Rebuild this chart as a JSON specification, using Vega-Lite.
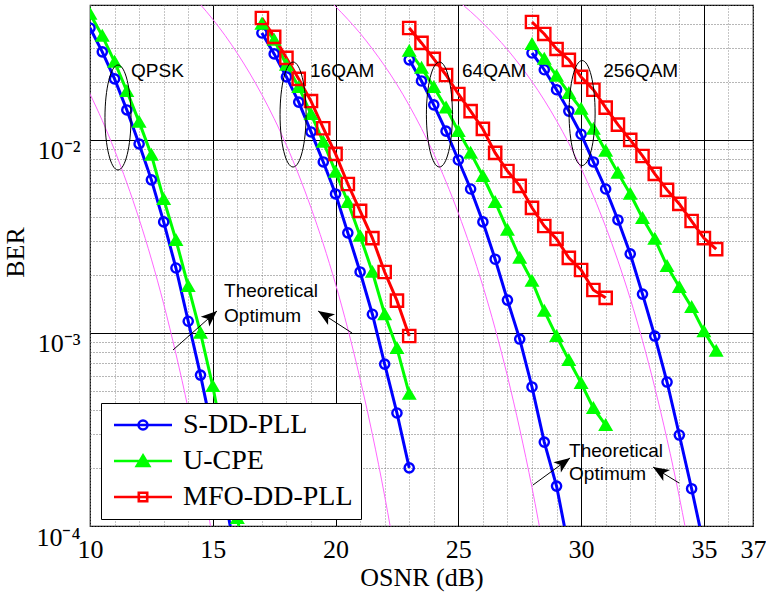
{
  "$schema": "https://vega.github.io/schema/vega-lite/v6.json",
  "width": 663,
  "height": 521,
  "autosize": {"type": "none"},
  "padding": {"left": 90, "top": 5, "right": 13, "bottom": 66},
  "background": "white",
  "config": {
    "view": {"stroke": "black", "strokeWidth": 1.2},
    "font": "Liberation Serif",
    "axis": {"labelOverlap": false},
    "legend": {
      "orient": "none",
      "legendX": 11,
      "legendY": 398,
      "padding": 8,
      "fillColor": "white",
      "strokeColor": "black",
      "symbolSize": 400,
      "symbolStrokeWidth": 2.6,
      "symbolOffset": 20,
      "labelFont": "Liberation Serif",
      "labelFontSize": 28,
      "labelColor": "black",
      "labelOffset": 26,
      "labelLimit": 400,
      "rowPadding": 8
    }
  },
  "datasets": {
    "meas": [
      {"series": "S-DD-PLL", "mod": "QPSK", "osnr": 10, "ber": 0.038},
      {"series": "S-DD-PLL", "mod": "QPSK", "osnr": 10.5, "ber": 0.0286},
      {"series": "S-DD-PLL", "mod": "QPSK", "osnr": 11, "ber": 0.0207},
      {"series": "S-DD-PLL", "mod": "QPSK", "osnr": 11.5, "ber": 0.0143},
      {"series": "S-DD-PLL", "mod": "QPSK", "osnr": 12, "ber": 0.00953},
      {"series": "S-DD-PLL", "mod": "QPSK", "osnr": 12.5, "ber": 0.00621},
      {"series": "S-DD-PLL", "mod": "QPSK", "osnr": 13, "ber": 0.00376},
      {"series": "S-DD-PLL", "mod": "QPSK", "osnr": 13.5, "ber": 0.00217},
      {"series": "S-DD-PLL", "mod": "QPSK", "osnr": 14, "ber": 0.00115},
      {"series": "S-DD-PLL", "mod": "QPSK", "osnr": 14.5, "ber": 0.000605},
      {"series": "S-DD-PLL", "mod": "QPSK", "osnr": 15, "ber": 0.0003},
      {"series": "S-DD-PLL", "mod": "QPSK", "osnr": 15.5, "ber": 0.00014},
      {"series": "S-DD-PLL", "mod": "QPSK", "osnr": 16, "ber": 0.000063},
      {"series": "U-CPE", "mod": "QPSK", "osnr": 10, "ber": 0.045},
      {"series": "U-CPE", "mod": "QPSK", "osnr": 10.5, "ber": 0.0346},
      {"series": "U-CPE", "mod": "QPSK", "osnr": 11, "ber": 0.0254},
      {"series": "U-CPE", "mod": "QPSK", "osnr": 11.5, "ber": 0.0179},
      {"series": "U-CPE", "mod": "QPSK", "osnr": 12, "ber": 0.0124},
      {"series": "U-CPE", "mod": "QPSK", "osnr": 12.5, "ber": 0.00836},
      {"series": "U-CPE", "mod": "QPSK", "osnr": 13, "ber": 0.00494},
      {"series": "U-CPE", "mod": "QPSK", "osnr": 13.5, "ber": 0.00303},
      {"series": "U-CPE", "mod": "QPSK", "osnr": 14, "ber": 0.00175},
      {"series": "U-CPE", "mod": "QPSK", "osnr": 14.5, "ber": 0.001},
      {"series": "U-CPE", "mod": "QPSK", "osnr": 15, "ber": 0.00053},
      {"series": "U-CPE", "mod": "QPSK", "osnr": 15.5, "ber": 0.00025},
      {"series": "U-CPE", "mod": "QPSK", "osnr": 16, "ber": 0.00011},
      {"series": "U-CPE", "mod": "QPSK", "osnr": 16.5, "ber": 0.00005},
      {"series": "S-DD-PLL", "mod": "16QAM", "osnr": 17, "ber": 0.0358},
      {"series": "S-DD-PLL", "mod": "16QAM", "osnr": 17.5, "ber": 0.0279},
      {"series": "S-DD-PLL", "mod": "16QAM", "osnr": 18, "ber": 0.0212},
      {"series": "S-DD-PLL", "mod": "16QAM", "osnr": 18.5, "ber": 0.0157},
      {"series": "S-DD-PLL", "mod": "16QAM", "osnr": 19, "ber": 0.011},
      {"series": "S-DD-PLL", "mod": "16QAM", "osnr": 19.5, "ber": 0.00769},
      {"series": "S-DD-PLL", "mod": "16QAM", "osnr": 20, "ber": 0.00525},
      {"series": "S-DD-PLL", "mod": "16QAM", "osnr": 20.5, "ber": 0.0033},
      {"series": "S-DD-PLL", "mod": "16QAM", "osnr": 21, "ber": 0.00207},
      {"series": "S-DD-PLL", "mod": "16QAM", "osnr": 21.5, "ber": 0.00125},
      {"series": "S-DD-PLL", "mod": "16QAM", "osnr": 22, "ber": 0.00069},
      {"series": "S-DD-PLL", "mod": "16QAM", "osnr": 22.5, "ber": 0.000385},
      {"series": "S-DD-PLL", "mod": "16QAM", "osnr": 23, "ber": 0.0002},
      {"series": "U-CPE", "mod": "16QAM", "osnr": 17, "ber": 0.0399},
      {"series": "U-CPE", "mod": "16QAM", "osnr": 17.5, "ber": 0.033},
      {"series": "U-CPE", "mod": "16QAM", "osnr": 18, "ber": 0.0245},
      {"series": "U-CPE", "mod": "16QAM", "osnr": 18.5, "ber": 0.0188},
      {"series": "U-CPE", "mod": "16QAM", "osnr": 19, "ber": 0.0136},
      {"series": "U-CPE", "mod": "16QAM", "osnr": 19.5, "ber": 0.00977},
      {"series": "U-CPE", "mod": "16QAM", "osnr": 20, "ber": 0.00683},
      {"series": "U-CPE", "mod": "16QAM", "osnr": 20.5, "ber": 0.00477},
      {"series": "U-CPE", "mod": "16QAM", "osnr": 21, "ber": 0.00318},
      {"series": "U-CPE", "mod": "16QAM", "osnr": 21.5, "ber": 0.00207},
      {"series": "U-CPE", "mod": "16QAM", "osnr": 22, "ber": 0.00125},
      {"series": "U-CPE", "mod": "16QAM", "osnr": 22.5, "ber": 0.000835},
      {"series": "U-CPE", "mod": "16QAM", "osnr": 23, "ber": 0.000483},
      {"series": "MFO-DD-PLL", "mod": "16QAM", "osnr": 17, "ber": 0.0428},
      {"series": "MFO-DD-PLL", "mod": "16QAM", "osnr": 17.5, "ber": 0.0342},
      {"series": "MFO-DD-PLL", "mod": "16QAM", "osnr": 18, "ber": 0.0266},
      {"series": "MFO-DD-PLL", "mod": "16QAM", "osnr": 18.5, "ber": 0.0207},
      {"series": "MFO-DD-PLL", "mod": "16QAM", "osnr": 19, "ber": 0.0159},
      {"series": "MFO-DD-PLL", "mod": "16QAM", "osnr": 19.5, "ber": 0.0115},
      {"series": "MFO-DD-PLL", "mod": "16QAM", "osnr": 20, "ber": 0.00846},
      {"series": "MFO-DD-PLL", "mod": "16QAM", "osnr": 20.5, "ber": 0.00591},
      {"series": "MFO-DD-PLL", "mod": "16QAM", "osnr": 21, "ber": 0.00429},
      {"series": "MFO-DD-PLL", "mod": "16QAM", "osnr": 21.5, "ber": 0.0031},
      {"series": "MFO-DD-PLL", "mod": "16QAM", "osnr": 22, "ber": 0.00207},
      {"series": "MFO-DD-PLL", "mod": "16QAM", "osnr": 22.5, "ber": 0.00147},
      {"series": "MFO-DD-PLL", "mod": "16QAM", "osnr": 23, "ber": 0.000964},
      {"series": "S-DD-PLL", "mod": "64QAM", "osnr": 23, "ber": 0.026},
      {"series": "S-DD-PLL", "mod": "64QAM", "osnr": 23.5, "ber": 0.0202},
      {"series": "S-DD-PLL", "mod": "64QAM", "osnr": 24, "ber": 0.0152},
      {"series": "S-DD-PLL", "mod": "64QAM", "osnr": 24.5, "ber": 0.0111},
      {"series": "S-DD-PLL", "mod": "64QAM", "osnr": 25, "ber": 0.00787},
      {"series": "S-DD-PLL", "mod": "64QAM", "osnr": 25.5, "ber": 0.00557},
      {"series": "S-DD-PLL", "mod": "64QAM", "osnr": 26, "ber": 0.00376},
      {"series": "S-DD-PLL", "mod": "64QAM", "osnr": 26.5, "ber": 0.00241},
      {"series": "S-DD-PLL", "mod": "64QAM", "osnr": 27, "ber": 0.00148},
      {"series": "S-DD-PLL", "mod": "64QAM", "osnr": 27.5, "ber": 0.00093},
      {"series": "S-DD-PLL", "mod": "64QAM", "osnr": 28, "ber": 0.000525},
      {"series": "S-DD-PLL", "mod": "64QAM", "osnr": 28.5, "ber": 0.000272},
      {"series": "S-DD-PLL", "mod": "64QAM", "osnr": 29, "ber": 0.000161},
      {"series": "S-DD-PLL", "mod": "64QAM", "osnr": 29.5, "ber": 0.000076},
      {"series": "U-CPE", "mod": "64QAM", "osnr": 23, "ber": 0.0289},
      {"series": "U-CPE", "mod": "64QAM", "osnr": 23.5, "ber": 0.0236},
      {"series": "U-CPE", "mod": "64QAM", "osnr": 24, "ber": 0.0188},
      {"series": "U-CPE", "mod": "64QAM", "osnr": 24.5, "ber": 0.0147},
      {"series": "U-CPE", "mod": "64QAM", "osnr": 25, "ber": 0.0111},
      {"series": "U-CPE", "mod": "64QAM", "osnr": 25.5, "ber": 0.00857},
      {"series": "U-CPE", "mod": "64QAM", "osnr": 26, "ber": 0.0065},
      {"series": "U-CPE", "mod": "64QAM", "osnr": 26.5, "ber": 0.00477},
      {"series": "U-CPE", "mod": "64QAM", "osnr": 27, "ber": 0.00342},
      {"series": "U-CPE", "mod": "64QAM", "osnr": 27.5, "ber": 0.00245},
      {"series": "U-CPE", "mod": "64QAM", "osnr": 28, "ber": 0.00186},
      {"series": "U-CPE", "mod": "64QAM", "osnr": 28.5, "ber": 0.0013},
      {"series": "U-CPE", "mod": "64QAM", "osnr": 29, "ber": 0.000964},
      {"series": "U-CPE", "mod": "64QAM", "osnr": 29.5, "ber": 0.000724},
      {"series": "U-CPE", "mod": "64QAM", "osnr": 30, "ber": 0.00055},
      {"series": "U-CPE", "mod": "64QAM", "osnr": 30.5, "ber": 0.000408},
      {"series": "U-CPE", "mod": "64QAM", "osnr": 31, "ber": 0.000333},
      {"series": "MFO-DD-PLL", "mod": "64QAM", "osnr": 23, "ber": 0.038},
      {"series": "MFO-DD-PLL", "mod": "64QAM", "osnr": 23.5, "ber": 0.0318},
      {"series": "MFO-DD-PLL", "mod": "64QAM", "osnr": 24, "ber": 0.0263},
      {"series": "MFO-DD-PLL", "mod": "64QAM", "osnr": 24.5, "ber": 0.0217},
      {"series": "MFO-DD-PLL", "mod": "64QAM", "osnr": 25, "ber": 0.0173},
      {"series": "MFO-DD-PLL", "mod": "64QAM", "osnr": 25.5, "ber": 0.0141},
      {"series": "MFO-DD-PLL", "mod": "64QAM", "osnr": 26, "ber": 0.0114},
      {"series": "MFO-DD-PLL", "mod": "64QAM", "osnr": 26.5, "ber": 0.00857},
      {"series": "MFO-DD-PLL", "mod": "64QAM", "osnr": 27, "ber": 0.0069},
      {"series": "MFO-DD-PLL", "mod": "64QAM", "osnr": 27.5, "ber": 0.00578},
      {"series": "MFO-DD-PLL", "mod": "64QAM", "osnr": 28, "ber": 0.00445},
      {"series": "MFO-DD-PLL", "mod": "64QAM", "osnr": 28.5, "ber": 0.00358},
      {"series": "MFO-DD-PLL", "mod": "64QAM", "osnr": 29, "ber": 0.00307},
      {"series": "MFO-DD-PLL", "mod": "64QAM", "osnr": 29.5, "ber": 0.00245},
      {"series": "MFO-DD-PLL", "mod": "64QAM", "osnr": 30, "ber": 0.00212},
      {"series": "MFO-DD-PLL", "mod": "64QAM", "osnr": 30.5, "ber": 0.00167},
      {"series": "MFO-DD-PLL", "mod": "64QAM", "osnr": 31, "ber": 0.00152},
      {"series": "S-DD-PLL", "mod": "256QAM", "osnr": 28, "ber": 0.0282},
      {"series": "S-DD-PLL", "mod": "256QAM", "osnr": 28.5, "ber": 0.0231},
      {"series": "S-DD-PLL", "mod": "256QAM", "osnr": 29, "ber": 0.0182},
      {"series": "S-DD-PLL", "mod": "256QAM", "osnr": 29.5, "ber": 0.0141},
      {"series": "S-DD-PLL", "mod": "256QAM", "osnr": 30, "ber": 0.0107},
      {"series": "S-DD-PLL", "mod": "256QAM", "osnr": 30.5, "ber": 0.00769},
      {"series": "S-DD-PLL", "mod": "256QAM", "osnr": 31, "ber": 0.00557},
      {"series": "S-DD-PLL", "mod": "256QAM", "osnr": 31.5, "ber": 0.00385},
      {"series": "S-DD-PLL", "mod": "256QAM", "osnr": 32, "ber": 0.00257},
      {"series": "S-DD-PLL", "mod": "256QAM", "osnr": 32.5, "ber": 0.00159},
      {"series": "S-DD-PLL", "mod": "256QAM", "osnr": 33, "ber": 0.000964},
      {"series": "S-DD-PLL", "mod": "256QAM", "osnr": 33.5, "ber": 0.000557},
      {"series": "S-DD-PLL", "mod": "256QAM", "osnr": 34, "ber": 0.000296},
      {"series": "S-DD-PLL", "mod": "256QAM", "osnr": 34.5, "ber": 0.000156},
      {"series": "S-DD-PLL", "mod": "256QAM", "osnr": 35, "ber": 0.000079},
      {"series": "U-CPE", "mod": "256QAM", "osnr": 28, "ber": 0.0314},
      {"series": "U-CPE", "mod": "256QAM", "osnr": 28.5, "ber": 0.0263},
      {"series": "U-CPE", "mod": "256QAM", "osnr": 29, "ber": 0.0215},
      {"series": "U-CPE", "mod": "256QAM", "osnr": 29.5, "ber": 0.0175},
      {"series": "U-CPE", "mod": "256QAM", "osnr": 30, "ber": 0.0145},
      {"series": "U-CPE", "mod": "256QAM", "osnr": 30.5, "ber": 0.0114},
      {"series": "U-CPE", "mod": "256QAM", "osnr": 31, "ber": 0.00877},
      {"series": "U-CPE", "mod": "256QAM", "osnr": 31.5, "ber": 0.00675},
      {"series": "U-CPE", "mod": "256QAM", "osnr": 32, "ber": 0.00525},
      {"series": "U-CPE", "mod": "256QAM", "osnr": 32.5, "ber": 0.00394},
      {"series": "U-CPE", "mod": "256QAM", "osnr": 33, "ber": 0.00307},
      {"series": "U-CPE", "mod": "256QAM", "osnr": 33.5, "ber": 0.00222},
      {"series": "U-CPE", "mod": "256QAM", "osnr": 34, "ber": 0.00173},
      {"series": "U-CPE", "mod": "256QAM", "osnr": 34.5, "ber": 0.00136},
      {"series": "U-CPE", "mod": "256QAM", "osnr": 35, "ber": 0.00102},
      {"series": "U-CPE", "mod": "256QAM", "osnr": 35.5, "ber": 0.000807},
      {"series": "MFO-DD-PLL", "mod": "256QAM", "osnr": 28, "ber": 0.0408},
      {"series": "MFO-DD-PLL", "mod": "256QAM", "osnr": 28.5, "ber": 0.0354},
      {"series": "MFO-DD-PLL", "mod": "256QAM", "osnr": 29, "ber": 0.0296},
      {"series": "MFO-DD-PLL", "mod": "256QAM", "osnr": 29.5, "ber": 0.026},
      {"series": "MFO-DD-PLL", "mod": "256QAM", "osnr": 30, "ber": 0.0212},
      {"series": "MFO-DD-PLL", "mod": "256QAM", "osnr": 30.5, "ber": 0.0182},
      {"series": "MFO-DD-PLL", "mod": "256QAM", "osnr": 31, "ber": 0.0147},
      {"series": "MFO-DD-PLL", "mod": "256QAM", "osnr": 31.5, "ber": 0.012},
      {"series": "MFO-DD-PLL", "mod": "256QAM", "osnr": 32, "ber": 0.01},
      {"series": "MFO-DD-PLL", "mod": "256QAM", "osnr": 32.5, "ber": 0.00826},
      {"series": "MFO-DD-PLL", "mod": "256QAM", "osnr": 33, "ber": 0.00667},
      {"series": "MFO-DD-PLL", "mod": "256QAM", "osnr": 33.5, "ber": 0.00551},
      {"series": "MFO-DD-PLL", "mod": "256QAM", "osnr": 34, "ber": 0.00466},
      {"series": "MFO-DD-PLL", "mod": "256QAM", "osnr": 34.5, "ber": 0.0038},
      {"series": "MFO-DD-PLL", "mod": "256QAM", "osnr": 35, "ber": 0.0031},
      {"series": "MFO-DD-PLL", "mod": "256QAM", "osnr": 35.5, "ber": 0.00272}
    ],
    "theory": [
      {"mod": "QPSK", "osnr": 9.5, "ber": 0.023},
      {"mod": "QPSK", "osnr": 10, "ber": 0.01728},
      {"mod": "QPSK", "osnr": 10.5, "ber": 0.0126},
      {"mod": "QPSK", "osnr": 11, "ber": 0.00885},
      {"mod": "QPSK", "osnr": 11.5, "ber": 0.00599},
      {"mod": "QPSK", "osnr": 12, "ber": 0.003893},
      {"mod": "QPSK", "osnr": 12.5, "ber": 0.002413},
      {"mod": "QPSK", "osnr": 13, "ber": 0.001415},
      {"mod": "QPSK", "osnr": 13.5, "ber": 0.000779},
      {"mod": "QPSK", "osnr": 14, "ber": 0.000404},
      {"mod": "QPSK", "osnr": 14.5, "ber": 0.000194},
      {"mod": "QPSK", "osnr": 15, "ber": 0.0000852},
      {"mod": "QPSK", "osnr": 15.5, "ber": 0.0000343},
      {"mod": "16QAM", "osnr": 14, "ber": 0.059},
      {"mod": "16QAM", "osnr": 14.5, "ber": 0.0502},
      {"mod": "16QAM", "osnr": 15, "ber": 0.04216},
      {"mod": "16QAM", "osnr": 15.5, "ber": 0.03478},
      {"mod": "16QAM", "osnr": 16, "ber": 0.02808},
      {"mod": "16QAM", "osnr": 16.5, "ber": 0.0222},
      {"mod": "16QAM", "osnr": 17, "ber": 0.01714},
      {"mod": "16QAM", "osnr": 17.5, "ber": 0.01289},
      {"mod": "16QAM", "osnr": 18, "ber": 0.00938},
      {"mod": "16QAM", "osnr": 18.5, "ber": 0.006585},
      {"mod": "16QAM", "osnr": 19, "ber": 0.004454},
      {"mod": "16QAM", "osnr": 19.5, "ber": 0.002894},
      {"mod": "16QAM", "osnr": 20, "ber": 0.001791},
      {"mod": "16QAM", "osnr": 20.5, "ber": 0.001049},
      {"mod": "16QAM", "osnr": 21, "ber": 0.000577},
      {"mod": "16QAM", "osnr": 21.5, "ber": 0.0002984},
      {"mod": "16QAM", "osnr": 22, "ber": 0.000143},
      {"mod": "16QAM", "osnr": 22.5, "ber": 0.0000628},
      {"mod": "64QAM", "osnr": 19.5, "ber": 0.0564},
      {"mod": "64QAM", "osnr": 20, "ber": 0.0491},
      {"mod": "64QAM", "osnr": 20.5, "ber": 0.04213},
      {"mod": "64QAM", "osnr": 21, "ber": 0.03568},
      {"mod": "64QAM", "osnr": 21.5, "ber": 0.02962},
      {"mod": "64QAM", "osnr": 22, "ber": 0.02418},
      {"mod": "64QAM", "osnr": 22.5, "ber": 0.01935},
      {"mod": "64QAM", "osnr": 23, "ber": 0.01508},
      {"mod": "64QAM", "osnr": 23.5, "ber": 0.01146},
      {"mod": "64QAM", "osnr": 24, "ber": 0.008477},
      {"mod": "64QAM", "osnr": 24.5, "ber": 0.006064},
      {"mod": "64QAM", "osnr": 25, "ber": 0.004174},
      {"mod": "64QAM", "osnr": 25.5, "ber": 0.002764},
      {"mod": "64QAM", "osnr": 26, "ber": 0.001749},
      {"mod": "64QAM", "osnr": 26.5, "ber": 0.001052},
      {"mod": "64QAM", "osnr": 27, "ber": 0.000597},
      {"mod": "64QAM", "osnr": 27.5, "ber": 0.000318},
      {"mod": "64QAM", "osnr": 28, "ber": 0.0001581},
      {"mod": "64QAM", "osnr": 28.5, "ber": 0.0000725},
      {"mod": "256QAM", "osnr": 25, "ber": 0.0523},
      {"mod": "256QAM", "osnr": 25.5, "ber": 0.04622},
      {"mod": "256QAM", "osnr": 26, "ber": 0.04027},
      {"mod": "256QAM", "osnr": 26.5, "ber": 0.03465},
      {"mod": "256QAM", "osnr": 27, "ber": 0.02938},
      {"mod": "256QAM", "osnr": 27.5, "ber": 0.02446},
      {"mod": "256QAM", "osnr": 28, "ber": 0.02004},
      {"mod": "256QAM", "osnr": 28.5, "ber": 0.01607},
      {"mod": "256QAM", "osnr": 29, "ber": 0.01257},
      {"mod": "256QAM", "osnr": 29.5, "ber": 0.0096},
      {"mod": "256QAM", "osnr": 30, "ber": 0.007128},
      {"mod": "256QAM", "osnr": 30.5, "ber": 0.005128},
      {"mod": "256QAM", "osnr": 31, "ber": 0.003549},
      {"mod": "256QAM", "osnr": 31.5, "ber": 0.002364},
      {"mod": "256QAM", "osnr": 32, "ber": 0.001507},
      {"mod": "256QAM", "osnr": 32.5, "ber": 0.000913},
      {"mod": "256QAM", "osnr": 33, "ber": 0.000522},
      {"mod": "256QAM", "osnr": 33.5, "ber": 0.000281},
      {"mod": "256QAM", "osnr": 34, "ber": 0.0001413},
      {"mod": "256QAM", "osnr": 34.5, "ber": 0.0000655}
    ],
    "notes": [
      {"osnr": 11.67, "ber": 0.0213, "text": "QPSK"},
      {"osnr": 18.96, "ber": 0.0213, "text": "16QAM"},
      {"osnr": 25.15, "ber": 0.0213, "text": "64QAM"},
      {"osnr": 30.9, "ber": 0.0213, "text": "256QAM"},
      {"osnr": 15.46, "ber": 0.001536, "text": "Theoretical"},
      {"osnr": 15.46, "ber": 0.001139, "text": "Optimum"},
      {"osnr": 29.51, "ber": 0.0002278, "text": "Theoretical"},
      {"osnr": 29.51, "ber": 0.0001731, "text": "Optimum"}
    ],
    "ellipses": [
      {"osnr": 11.14, "ber": 0.01307},
      {"osnr": 18.27, "ber": 0.01354},
      {"osnr": 24.23, "ber": 0.01354},
      {"osnr": 30.04, "ber": 0.01378}
    ],
    "arrows": [
      {"id": "a1", "osnr": 15.17, "ber": 0.001299, "osnr2": 13.38, "ber2": 0.000816},
      {"id": "a2", "osnr": 19.29, "ber": 0.001299, "osnr2": 20.67, "ber2": 0.0009996},
      {"id": "a3", "osnr": 29.55, "ber": 0.0002251, "osnr2": 28.04, "ber2": 0.0001631},
      {"id": "a4", "osnr": 32.93, "ber": 0.000202, "osnr2": 33.99, "ber2": 0.000167}
    ]
  },
  "encoding": {
    "x": {
      "field": "osnr", "type": "quantitative",
      "scale": {"domain": [10, 37], "nice": false, "zero": false},
      "axis": {
        "title": "OSNR (dB)",
        "values": [10, 11, 12, 13, 14, 15, 16, 17, 18, 19, 20, 21, 22, 23, 24, 25, 26, 27, 28, 29, 30, 31, 32, 33, 34, 35, 36, 37],
        "labelExpr": "indexof([10, 15, 20, 25, 30, 35, 37], round(datum.value)) >= 0 ? '' + round(datum.value) : ''",
        "labelFont": "Liberation Serif", "labelFontSize": 26, "labelColor": "black",
        "labelBaseline": "alphabetic", "labelPadding": 31, "labelFlush": false, "labelOverlap": false,
        "ticks": false, "tickSize": 0, "domain": false,
        "grid": true,
        "gridColor": {"condition": {"test": "indexof([15, 20, 25, 30, 35], round(datum.value)) >= 0", "value": "black"}, "value": "#8c8c8c"},
        "gridDash": {"condition": {"test": "indexof([15, 20, 25, 30, 35], round(datum.value)) >= 0", "value": []}, "value": [1, 2]},
        "gridOpacity": 1, "gridWidth": 1,
        "titleFont": "Liberation Serif", "titleFontSize": 26, "titleFontWeight": "normal", "titleColor": "black",
        "titleBaseline": "alphabetic", "titleY": 59
      }
    },
    "y": {
      "field": "ber", "type": "quantitative",
      "scale": {"type": "log", "domain": [0.0001, 0.05], "nice": false},
      "axis": {
        "title": "BER",
        "values": [0.0001, 0.0002, 0.0003, 0.0004, 0.0005, 0.0006, 0.0007, 0.0008, 0.0009, 0.001, 0.002, 0.003, 0.004, 0.005, 0.006, 0.007, 0.008, 0.009, 0.01, 0.02, 0.03, 0.04, 0.05],
        "labelExpr": "datum.value === 0.01 ? '10⁻²' : datum.value === 0.001 ? '10⁻³' : datum.value === 0.0001 ? '10⁻⁴' : ''",
        "labelFont": "Liberation Serif", "labelFontSize": 26, "labelColor": "black",
        "labelPadding": 10, "labelBaseline": "alphabetic", "labelOffset": 19, "labelOverlap": false, "labelFlush": false,
        "ticks": false, "tickSize": 0, "domain": false,
        "grid": true,
        "gridColor": {"condition": {"test": "datum.value === 0.01 || datum.value === 0.001", "value": "black"}, "value": "#6e6e6e"},
        "gridDash": {"condition": {"test": "datum.value === 0.01 || datum.value === 0.001", "value": []}, "value": [1, 2]},
        "gridOpacity": 1, "gridWidth": 1,
        "titleFont": "Liberation Serif", "titleFontSize": 26, "titleFontWeight": "normal", "titleColor": "black",
        "titleX": -67, "titleY": 247, "titleBaseline": "alphabetic", "titleAlign": "center"
      }
    }
  },
  "layer": [
    {
      "data": {"name": "theory"},
      "mark": {"type": "line", "color": "#ff66ff", "strokeWidth": 1, "clip": true, "interpolate": "monotone"},
      "encoding": {
        "detail": {"field": "mod"}
      }
    },
    {
      "data": {"name": "meas"},
      "mark": {"type": "line", "strokeWidth": 3, "clip": true},
      "encoding": {
        "color": {"field": "series", "type": "nominal", "scale": {"domain": ["S-DD-PLL", "U-CPE", "MFO-DD-PLL"], "range": ["#0000ff", "#00ff00", "#ff0000"]}, "legend": null},
        "detail": {"field": "mod"}
      }
    },
    {
      "data": {"name": "meas"},
      "mark": {"type": "point", "strokeWidth": 2.4, "clip": true, "opacity": 1},
      "encoding": {
        "color": {"field": "series", "type": "nominal", "scale": {"domain": ["S-DD-PLL", "U-CPE", "MFO-DD-PLL"], "range": ["#0000ff", "#00ff00", "#ff0000"]}, "legend": null},
        "fill": {"field": "series", "type": "nominal", "scale": {"domain": ["S-DD-PLL", "U-CPE", "MFO-DD-PLL"], "range": ["transparent", "#00ff00", "transparent"]}, "legend": null},
        "shape": {"field": "series", "type": "nominal", "scale": {"domain": ["S-DD-PLL", "U-CPE", "MFO-DD-PLL"], "range": ["circle", "triangle-up", "square"]}, "legend": null},
        "size": {"field": "series", "type": "nominal", "scale": {"domain": ["S-DD-PLL", "U-CPE", "MFO-DD-PLL"], "range": [85, 150, 100]}, "legend": null}
      }
    },
    {
      "data": {"name": "ellipses"},
      "mark": {"type": "point", "shape": "M-0.248,0 A0.248,1 0 1,0 0.248,0 A0.248,1 0 1,0 -0.248,0 Z", "size": 11025, "color": "black", "filled": false, "strokeWidth": 1, "opacity": 1},
      "encoding": {}
    },
    {
      "data": {"name": "notes"},
      "mark": {"type": "text", "align": "left", "baseline": "alphabetic", "font": "Liberation Sans", "fontSize": 19, "color": "black"},
      "encoding": {
        "text": {"field": "text"}
      }
    },
    {
      "data": {"name": "arrows"},
      "mark": {"type": "rule", "color": "black", "strokeWidth": 1},
      "encoding": {
        "x2": {"field": "osnr2"},
        "y2": {"field": "ber2"}
      }
    },
    {
      "data": {"name": "arrows"},
      "transform": [{"filter": "datum.id === 'a1'"}],
      "mark": {"type": "point", "shape": "M0,0 L0.4,1 L0,0.75 L-0.4,1 Z", "size": 1024, "filled": true, "color": "black", "opacity": 1, "angle": 48.4},
      "encoding": {}
    },
    {
      "data": {"name": "arrows"},
      "transform": [{"filter": "datum.id === 'a2'"}],
      "mark": {"type": "point", "shape": "M0,0 L0.4,1 L0,0.75 L-0.4,1 Z", "size": 1024, "filled": true, "color": "black", "opacity": 1, "angle": 302.9},
      "encoding": {}
    },
    {
      "data": {"name": "arrows"},
      "transform": [{"filter": "datum.id === 'a3'"}],
      "mark": {"type": "point", "shape": "M0,0 L0.4,1 L0,0.75 L-0.4,1 Z", "size": 1024, "filled": true, "color": "black", "opacity": 1, "angle": 53.9},
      "encoding": {}
    },
    {
      "data": {"name": "arrows"},
      "transform": [{"filter": "datum.id === 'a4'"}],
      "mark": {"type": "point", "shape": "M0,0 L0.4,1 L0,0.75 L-0.4,1 Z", "size": 1024, "filled": true, "color": "black", "opacity": 1, "angle": 301.6},
      "encoding": {}
    },
    {
      "data": {"name": "meas"},
      "transform": [{"filter": "false"}],
      "mark": {"type": "point", "strokeWidth": 2.6, "opacity": 1},
      "encoding": {
        "color": {"field": "series", "type": "nominal", "scale": {"domain": ["S-DD-PLL", "U-CPE", "MFO-DD-PLL"], "range": ["#0000ff", "#00ff00", "#ff0000"]}, "legend": {"title": null}},
        "fill": {"field": "series", "type": "nominal", "scale": {"domain": ["S-DD-PLL", "U-CPE", "MFO-DD-PLL"], "range": ["transparent", "#00ff00", "transparent"]}, "legend": {"title": null}},
        "shape": {"field": "series", "type": "nominal", "scale": {"domain": ["S-DD-PLL", "U-CPE", "MFO-DD-PLL"], "range": ["M-2.9,0 L2.9,0 M0.45,0 A0.45,0.45 0 1,1 -0.45,0 A0.45,0.45 0 1,1 0.45,0 Z", "M-2.9,0 L2.9,0 M0,-0.55 L0.62,0.5 L-0.62,0.5 Z", "M-2.9,0 L2.9,0 M-0.42,-0.42 L0.42,-0.42 L0.42,0.42 L-0.42,0.42 Z"]}, "legend": {"title": null}}
      }
    }
  ],
  "resolve": {"scale": {"color": "independent", "fill": "independent", "shape": "independent", "size": "independent"}}
}
